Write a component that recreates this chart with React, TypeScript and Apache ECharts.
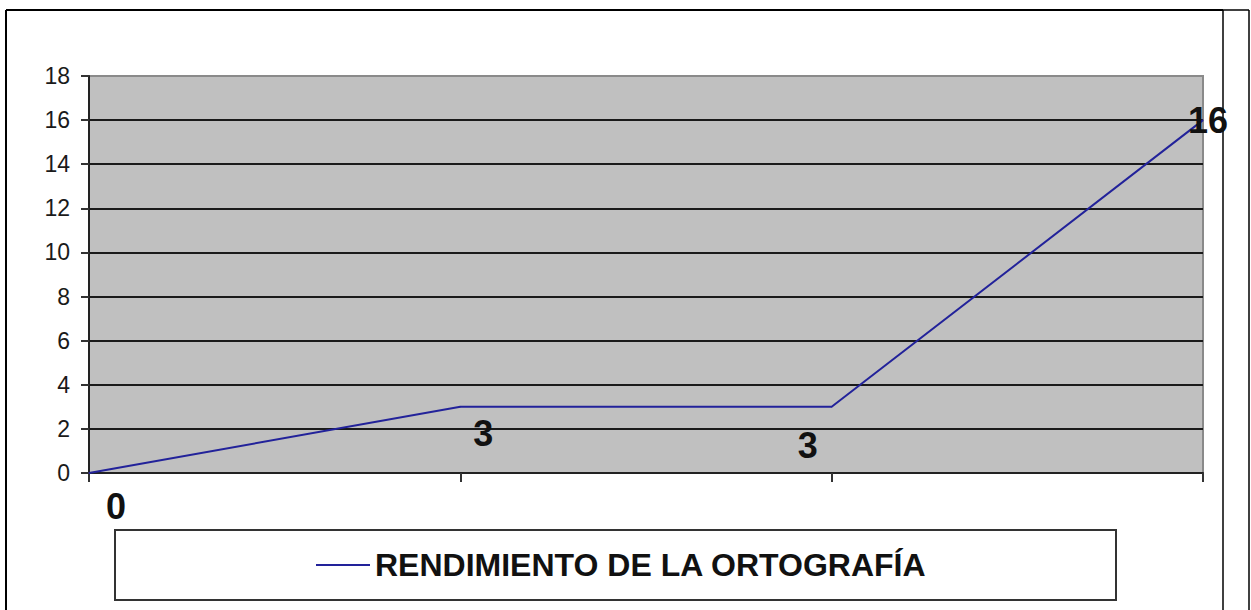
import React, { useEffect, useRef } from "react";
import * as echarts from "echarts";

const categories = ["P1", "P2", "P3", "P4"];
const values = [0, 3, 3, 16];
const seriesName = "RENDIMIENTO DE LA ORTOGRAFÍA";
const yTicks = { min: 0, max: 18, interval: 2 };

export default function App() {
  const ref = useRef<HTMLDivElement>(null);
  useEffect(() => {
    if (!ref.current) return;
    const chart = echarts.init(ref.current, null, { renderer: "svg" });
    const offsets = [
      [27, 33],
      [23, 27],
      [-24, 39],
      [5, 0],
    ];
    chart.setOption({
      animation: false,
      backgroundColor: "#ffffff",
      grid: {
        left: 89,
        top: 76,
        width: 1114,
        height: 397,
        show: true,
        backgroundColor: "#C0C0C0",
        borderColor: "#8a8a8a",
        borderWidth: 2,
      },
      xAxis: {
        type: "category",
        data: categories,
        boundaryGap: false,
        axisLine: { lineStyle: { color: "#222", width: 2 } },
        axisTick: { show: true, length: 9, lineStyle: { color: "#333", width: 2 }, alignWithLabel: true },
        axisLabel: { show: false },
        splitLine: { show: false },
      },
      yAxis: {
        type: "value",
        min: yTicks.min,
        max: yTicks.max,
        interval: yTicks.interval,
        axisLine: { show: true, lineStyle: { color: "#222", width: 2 } },
        axisTick: { show: true, length: 8, lineStyle: { color: "#333", width: 2 } },
        axisLabel: {
          color: "#1a1a1a",
          fontSize: 23,
          fontFamily: "Liberation Sans",
          margin: 19,
        },
        splitLine: { show: true, showMaxLine: false, lineStyle: { color: "#1a1a1a", width: 2 } },
      },
      legend: {
        show: true,
        left: 311,
        top: 542,
        icon: "rect",
        itemWidth: 54,
        itemHeight: 2,
        textStyle: {
          color: "#111",
          fontSize: 32,
          fontWeight: "bold",
          fontFamily: "Liberation Sans",
          lineHeight: 36,
        },
        data: [seriesName],
      },
      series: [
        {
          name: seriesName,
          type: "line",
          data: values.map((v, i) => ({
            value: v,
            label: { offset: offsets[i] },
          })),
          showSymbol: true,
          symbol: "circle",
          symbolSize: 1,
          itemStyle: { color: "#22229a" },
          lineStyle: { color: "#22229a", width: 2 },
          label: {
            show: true,
            position: "inside",
            color: "#111",
            fontSize: 36,
            fontWeight: "bold",
            fontFamily: "Liberation Sans",
          },
        },
      ],
      graphic: [
        { type: "line", shape: { x1: 6, y1: 10, x2: 1223, y2: 10 }, style: { stroke: "#000", lineWidth: 2 } },
        { type: "line", shape: { x1: 6, y1: 10, x2: 6, y2: 610 }, style: { stroke: "#000", lineWidth: 2 } },
        { type: "line", shape: { x1: 1223, y1: 10, x2: 1223, y2: 610 }, style: { stroke: "#000", lineWidth: 1.5 } },
        { type: "line", shape: { x1: 1223, y1: 10, x2: 1249, y2: 10 }, style: { stroke: "#000", lineWidth: 1.5 } },
        { type: "line", shape: { x1: 1249, y1: 10, x2: 1249, y2: 610 }, style: { stroke: "#000", lineWidth: 1.5 } },
        {
          type: "rect",
          z: -1,
          shape: { x: 115, y: 530, width: 1001, height: 70 },
          style: { fill: "#fff", stroke: "#333", lineWidth: 2 },
        },
      ],
    });
    return () => chart.dispose();
  }, []);
  return (
    <div
      ref={ref}
      style={{ position: "absolute", left: 0, top: 0, width: 1251, height: 610 }}
    />
  );
}
